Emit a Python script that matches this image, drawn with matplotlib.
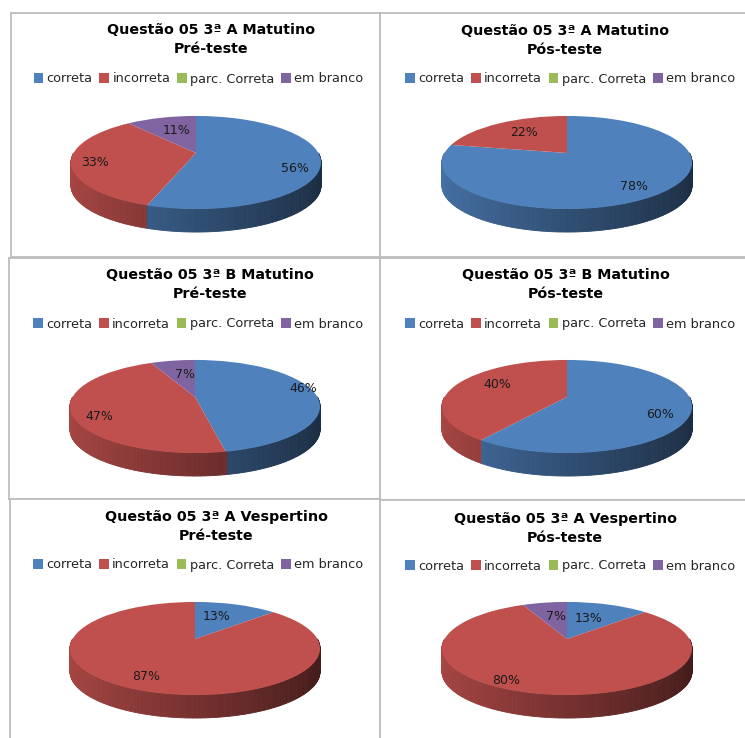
import numpy as np
import matplotlib
matplotlib.use("Agg")
import matplotlib.pyplot as plt
from matplotlib.collections import PolyCollection
from matplotlib.colors import to_rgb
from matplotlib.path import Path
from matplotlib.transforms import Transform

categories = ["correta", "incorreta", "parc. Correta", "em branco"]
colors = ["#4f81bd", "#c0504d", "#9bbb59", "#8064a2"]

titles = [
    "Questão 05 3ª A Matutino\nPré-teste",
    "Questão 05 3ª A Matutino\nPós-teste",
    "Questão 05 3ª B Matutino\nPré-teste",
    "Questão 05 3ª B Matutino\nPós-teste",
    "Questão 05 3ª A Vespertino\nPré-teste",
    "Questão 05 3ª A Vespertino\nPós-teste",
]
a_mat_pre = [56, 33, 0, 11]
a_mat_pos = [78, 22, 0, 0]
b_mat_pre = [46, 47, 0, 7]
b_mat_pos = [60, 40, 0, 0]
a_ves_pre = [13, 87, 0, 0]
a_ves_pos = [13, 80, 0, 7]
series = [a_mat_pre, a_mat_pos, b_mat_pre, b_mat_pos, a_ves_pre, a_ves_pos]

# layout, in pixels of the 745x738 canvas
W, H = 745, 738
panels = [(11, 13, 380, 257), (380, 13, 746, 257), (9, 258, 380, 499),
          (380, 258, 746, 500), (10, 499, 380, 739), (380, 500, 746, 739)]
apex = [(196, 153), (567, 153), (195, 397), (567, 397), (195, 639), (567, 639)]
title_xy = [(211, 39.5), (565, 40.5), (210, 284.5), (566, 284.5), (216, 526.5), (565, 528.5)]
legend_xy = [(198.5, 79), (570, 79), (198, 324), (570, 324), (198, 565), (570, 566)]
label_xy = [
    [(295, 168), (95, 162), None, (177, 130)],
    [(634, 186), (524, 133), None, None],
    [(303, 389), (99, 416), None, (185, 374)],
    [(660, 415), (497, 385), None, None],
    [(217, 617), (146, 677), None, None],
    [(589, 618), (506, 680), None, (556, 617)],
]
SEMI_X, SEMI_Y, PERSP, DEPTH = 122.4, 44.6, 0.204, 23


class TiltedDisk(Transform):
    """Perspective view of the unit disk, in pixel offsets from its centre."""
    input_dims = output_dims = 2
    is_affine = False

    def transform_non_affine(self, values):
        v = np.asarray(values, dtype=float)
        d = 1 + PERSP * v[:, 1]
        return np.column_stack((SEMI_X * v[:, 0] / d, SEMI_Y * v[:, 1] / d))

    def transform_path_non_affine(self, path):
        return Path(self.transform_non_affine(path.vertices), path.codes)


def front_correction(theta):
    """Shift, in degrees, of a boundary near the front of the tilted disk."""
    d = theta - 180.0
    if abs(d) >= 36:
        return 0.0
    return float(np.sign(d) * 3.0 * np.sin(np.radians(5 * abs(d))))


tilt = TiltedDisk()
fig = plt.figure(figsize=(W / 100, H / 100), dpi=100, facecolor="white")

for i, values in enumerate(series):
    x0, y0, x1, y1 = panels[i]
    ax = fig.add_axes([x0 / W, 1 - y1 / H, (x1 - x0) / W, (y1 - y0) / H])
    wedges, _ = ax.pie(values, colors=colors, startangle=90, counterclock=False, radius=1)
    cx, cy = apex[i]
    ax.set_aspect("auto")
    ax.set_xlim(x0 - cx, x1 - cx)
    ax.set_ylim(cy - y1, cy - y0)
    ax.set_axis_on()
    ax.set_frame_on(True)
    ax.set_xticks([])
    ax.set_yticks([])
    for s in ax.spines.values():
        s.set_color("#bdbdbd")
        s.set_linewidth(1.3)

    # rim of the disk, shaded from left to right
    edges = np.cumsum(values) / np.sum(values) * 360
    edges = np.array([e - front_correction(e) for e in edges])
    polys, faces = [], []
    for t in np.arange(90, 270, 1.0):
        pair = np.radians([t, t + 1.0])
        top = tilt.transform(np.column_stack((np.sin(pair), np.cos(pair))))
        low = top - [0, DEPTH]
        polys.append([top[0], top[1], low[1], low[0]])
        idx = int(np.searchsorted(edges, t + 0.5))
        u = 0.5 * (1 + np.sin(np.radians(t + 0.5)))
        faces.append(np.array(to_rgb(colors[idx])) * (0.34 + 0.54 * (1 - u)))
    ax.add_collection(PolyCollection(polys, facecolors=faces, edgecolors=faces, linewidths=0.6,
                                     zorder=0.5, clip_on=False))

    for w in wedges:
        t1, t2 = w.theta1, w.theta2
        w.set_theta1(t1 + front_correction((90 - t1) % 360))
        w.set_theta2(t2 + front_correction((90 - t2) % 360))
        w.set_transform(tilt + ax.transData)
        w.set_zorder(1)
        w.set_clip_on(False)

    for v, pos in zip(values, label_xy[i]):
        if pos is not None:
            ax.text(pos[0] - cx, cy - pos[1], f"{v}%", ha="center", va="center",
                    fontsize=9, color="#1a1a1a", zorder=3)

    lx, ly = legend_xy[i]
    ax.legend(wedges, categories, ncol=4, loc="center", frameon=False,
              bbox_to_anchor=(lx - cx, cy - ly), bbox_transform=ax.transData,
              fontsize=9.3, labelcolor="#262626", handlelength=0.75, handleheight=0.75,
              handletextpad=0.25, columnspacing=0.54, borderpad=0, borderaxespad=0)

    tx, ty = title_xy[i]
    ax.text(tx - cx, cy - ty, titles[i], ha="center", va="center", ma="center",
            fontsize=10.3, fontweight="bold", color="black", linespacing=1.45)

fig.savefig("out.png", dpi=100)
